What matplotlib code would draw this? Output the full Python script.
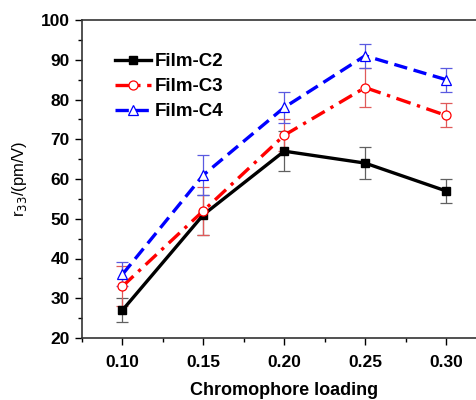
import matplotlib
matplotlib.use("Agg")
import matplotlib.pyplot as plt
from matplotlib.ticker import MultipleLocator

plt.rcParams['font.family'] = ['Liberation Sans', 'DejaVu Sans']

loading = [0.10, 0.15, 0.20, 0.25, 0.30]
c2 = [27, 51, 67, 64, 57]
c2_err = [3, 5, 5, 4, 3]
c3 = [33, 52, 71, 83, 76]
c3_err = [5, 6, 4, 5, 3]
c4 = [36, 61, 78, 91, 85]
c4_err = [3, 5, 4, 3, 3]
labels = ['Film-C2', 'Film-C3', 'Film-C4']

fig = plt.figure(figsize=(4.76, 4.0), dpi=100)
ax = fig.add_axes([0.1723, 0.155, 0.8496, 0.795])

ax.errorbar(loading, c2, yerr=c2_err, fmt='none', ecolor='#606060', elinewidth=0.9, capsize=4, capthick=0.9, zorder=1)
ax.errorbar(loading, c3, yerr=c3_err, fmt='none', ecolor='#e05a5a', elinewidth=0.9, capsize=4, capthick=0.9, zorder=1)
ax.errorbar(loading, c4, yerr=c4_err, fmt='none', ecolor='#5a5ae0', elinewidth=0.9, capsize=4, capthick=0.9, zorder=1)

ax.plot(loading, c2, color='black', lw=2.4, ls='-', marker='s', ms=6, mfc='black', mec='black', label=labels[0], zorder=3)
ax.plot(loading, c3, color='red', lw=2.4, ls=(0, (4.5, 2.0, 1.0, 2.0)), marker='o', ms=6.5, mfc='white', mec='red', mew=0.9, label=labels[1], zorder=3)
ax.plot(loading, c4, color='blue', lw=2.4, ls=(0, (4.0, 2.0)), marker='^', ms=7, mfc='white', mec='blue', mew=0.9, label=labels[2], zorder=3)

ax.set_xlim(0.075, 0.325)
ax.set_ylim(20, 100)
ax.xaxis.set_major_locator(MultipleLocator(0.05))
ax.xaxis.set_minor_locator(MultipleLocator(0.025))
ax.yaxis.set_major_locator(MultipleLocator(10))
ax.yaxis.set_minor_locator(MultipleLocator(5))
ax.set_xticks(loading)
ax.set_xticklabels(['0.10', '0.15', '0.20', '0.25', '0.30'])
ax.tick_params(axis='both', which='major', direction='out', length=5, width=1, labelsize=12.5, pad=4)
ax.tick_params(axis='x', which='major', pad=7)
ax.tick_params(axis='both', which='minor', direction='out', length=3, width=1)
for lab in ax.get_xticklabels() + ax.get_yticklabels():
    lab.set_fontweight('bold')
for s in ax.spines.values():
    s.set_linewidth(1.2)
    s.set_color('#333333')

ax.set_xlabel('Chromophore loading', fontsize=13, fontweight='bold', labelpad=9)
ax.set_ylabel(r'r$_{33}$/(pm/V)', fontsize=12, labelpad=8)

leg = ax.legend(loc='upper left', bbox_to_anchor=(0.035, 0.955), frameon=False,
                prop={'size': 13.5, 'weight': 'bold'}, handlelength=1.9,
                handletextpad=0.2, labelspacing=0.42, borderaxespad=0.6)

fig.savefig('out.png', dpi=100)
